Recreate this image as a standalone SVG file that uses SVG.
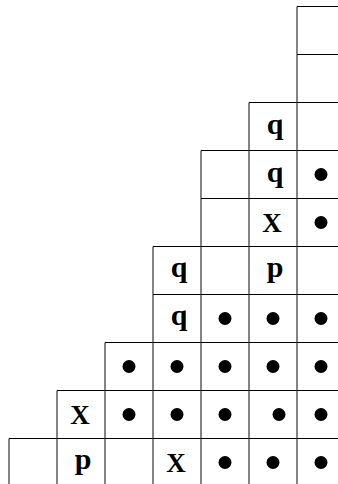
<svg xmlns="http://www.w3.org/2000/svg" width="338" height="484" viewBox="0 0 338 484">
<style>
.g{stroke:#000;stroke-width:1;fill:none}
.v{stroke:#222;stroke-width:1.1;fill:none}
.t{font-family:"Liberation Serif","Times New Roman",serif;font-weight:bold;font-size:30px;text-anchor:middle;fill:#000}
.x{font-family:"Liberation Serif","Times New Roman",serif;font-weight:bold;font-size:27px;text-anchor:middle;fill:#000}
.d{fill:#000}
</style>
<rect width="338" height="484" fill="#fff"/>
<g id="grid">
<path class="g" d="M297 6.5H340M297 54.5H340M249 102.5H340M201 150.5H340M201 198.5H340M153 246.5H340M153 294.5H340M105 342.5H340M57 390.5H340M9 438.5H340"/>
<path class="v" d="M297 6.5V486M249 102.5V486M201 150.5V486M153 246.5V486M105 342.5V486M57 390.5V486M9 438.5V486"/>
</g>
<g id="row2"><text class="t" x="275" y="134">q</text></g>
<g id="row3"><text class="t" x="275" y="182">q</text><circle class="d" cx="321" cy="174.5" r="6.5"/></g>
<g id="row4"><text class="x" x="272" y="232">X</text><circle class="d" cx="321" cy="222.5" r="6.5"/></g>
<g id="row5"><text class="t" x="179" y="277">q</text><text class="t" x="275" y="277">p</text></g>
<g id="row6"><text class="t" x="179" y="325">q</text><circle class="d" cx="225" cy="318.5" r="6.5"/><circle class="d" cx="273" cy="318.5" r="6.5"/><circle class="d" cx="321" cy="318.5" r="6.5"/></g>
<g id="row7"><circle class="d" cx="129" cy="366.5" r="6.5"/><circle class="d" cx="177" cy="366.5" r="6.5"/><circle class="d" cx="225" cy="366.5" r="6.5"/><circle class="d" cx="273" cy="366.5" r="6.5"/><circle class="d" cx="321" cy="366.5" r="6.5"/></g>
<g id="row8"><text class="x" x="80" y="424">X</text><circle class="d" cx="129" cy="414.5" r="6.5"/><circle class="d" cx="177" cy="414.5" r="6.5"/><circle class="d" cx="225" cy="414.5" r="6.5"/><circle class="d" cx="279" cy="414.5" r="6.5"/><circle class="d" cx="321" cy="414.5" r="6.5"/></g>
<g id="row9"><text class="t" x="83" y="469">p</text><text class="x" x="176" y="472">X</text><circle class="d" cx="225" cy="462.5" r="6.5"/><circle class="d" cx="273" cy="462.5" r="6.5"/><circle class="d" cx="321" cy="462.5" r="6.5"/></g>
</svg>
